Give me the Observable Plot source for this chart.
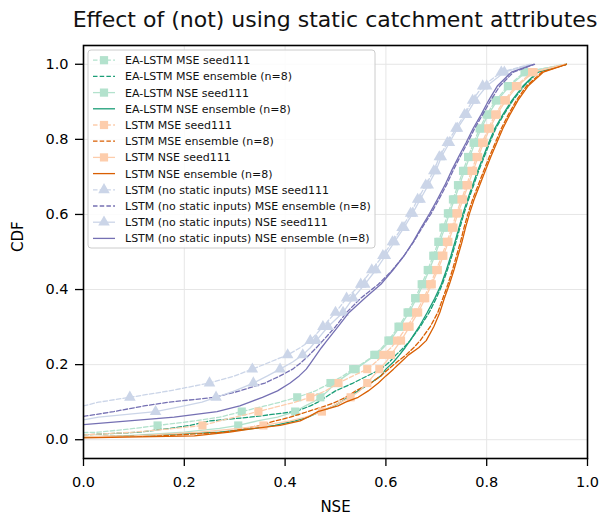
<!DOCTYPE html>
<html>
<head>
<meta charset="utf-8">
<script src="https://cdn.jsdelivr.net/npm/d3@7"></script>
<script src="https://cdn.jsdelivr.net/npm/@observablehq/plot@0.6"></script>
<style>
  html, body { margin: 0; padding: 0; background: white; }
  #wrap { position: relative; width: 601px; height: 518px; font-family: "DejaVu Sans", sans-serif; }
  #title { position: absolute; left: 335px; top: 0; height: 40px; line-height: 40px; transform: translateX(-50%); white-space: nowrap; font-size: 22px; color: #111; }
  #chart { position: absolute; left: 0; top: 40px; }
</style>
</head>
<body>
<div id="wrap">
  <div id="title">Effect of (not) using static catchment attributes</div>
  <div id="chart"></div>
</div>
<script>
// CDF levels (fraction of basins) at which NSE values were read
const cdfLevels = [0.01, 0.02, 0.03, 0.038, 0.05, 0.06, 0.075, 0.09, 0.1, 0.113, 0.13, 0.151, 0.17, 0.188, 0.207, 0.226, 0.245, 0.264, 0.301, 0.339, 0.377, 0.414, 0.452, 0.49, 0.527, 0.565, 0.603, 0.64, 0.678, 0.716, 0.753, 0.791, 0.829, 0.866, 0.904, 0.942, 0.979, 1.0];
// levels at which the seed111 runs carry a marker
const markerLevels = [0.038, 0.075, 0.113, 0.151, 0.188, 0.226, 0.264, 0.301, 0.339, 0.377, 0.414, 0.452, 0.49, 0.527, 0.565, 0.603, 0.64, 0.678, 0.716, 0.753, 0.791, 0.829, 0.866, 0.904, 0.942, 0.979];

const seriesNames = [
  "EA-LSTM MSE seed111", "EA-LSTM MSE ensemble (n=8)", "EA-LSTM NSE seed111", "EA-LSTM NSE ensemble (n=8)",
  "LSTM MSE seed111", "LSTM MSE ensemble (n=8)", "LSTM NSE seed111", "LSTM NSE ensemble (n=8)",
  "LSTM (no static inputs) MSE seed111", "LSTM (no static inputs) MSE ensemble (n=8)",
  "LSTM (no static inputs) NSE seed111", "LSTM (no static inputs) NSE ensemble (n=8)"
];
const seriesColors = ["#b3e2cd", "#1b9e77", "#b3e2cd", "#1b9e77", "#fdcdac", "#d95f02", "#fdcdac", "#d95f02", "#cbd5e8", "#7570b3", "#cbd5e8", "#7570b3"];
const seriesDashed = [true, true, false, false, true, true, false, false, true, true, false, false];
const seriesMarker = ["square", null, "square", null, "square", null, "square", null, "triangle", null, "triangle", null];
// CDF value where each curve enters at NSE = 0
const cdfAtZero = [0.019, 0.013, 0.008, 0.006, 0.013, 0.008, 0.008, 0.005, 0.09, 0.062, 0.053, 0.04];

// NSE values at cdfLevels (null = below NSE 0)
const eaMseSeed = [null, 0.03, 0.10, 0.147, 0.22, 0.27, 0.314, 0.36, 0.39, 0.424, 0.46, 0.49, 0.515, 0.535, 0.558, 0.577, 0.592, 0.605, 0.625, 0.643, 0.658, 0.671, 0.683, 0.694, 0.704, 0.714, 0.723, 0.733, 0.743, 0.753, 0.763, 0.774, 0.786, 0.80, 0.818, 0.842, 0.875, 0.955];
const eaMseEns = [null, 0.11, 0.17, 0.21, 0.25, 0.33, 0.42, 0.45, 0.465, 0.48, 0.50, 0.535, 0.563, 0.59, 0.607, 0.62, 0.635, 0.648, 0.668, 0.686, 0.70, 0.712, 0.722, 0.731, 0.739, 0.747, 0.755, 0.764, 0.774, 0.784, 0.795, 0.806, 0.818, 0.834, 0.852, 0.874, 0.902, 0.958];
const eaNseSeed = [0.08, 0.2, 0.27, 0.307, 0.345, 0.385, 0.42, 0.44, 0.455, 0.47, 0.485, 0.50, 0.52, 0.54, 0.56, 0.58, 0.595, 0.608, 0.628, 0.646, 0.661, 0.674, 0.686, 0.697, 0.707, 0.717, 0.726, 0.736, 0.746, 0.756, 0.766, 0.777, 0.789, 0.803, 0.821, 0.845, 0.878, 0.955];
const eaNseEns = [0.10, 0.27, 0.34, 0.38, 0.42, 0.445, 0.47, 0.497, 0.51, 0.525, 0.545, 0.57, 0.59, 0.60, 0.615, 0.627, 0.638, 0.648, 0.666, 0.682, 0.697, 0.71, 0.72, 0.729, 0.737, 0.745, 0.753, 0.762, 0.772, 0.782, 0.793, 0.804, 0.816, 0.832, 0.85, 0.872, 0.90, 0.958];
const lstmMseSeed = [null, 0.1, 0.18, 0.236, 0.27, 0.30, 0.347, 0.39, 0.42, 0.45, 0.48, 0.506, 0.535, 0.563, 0.58, 0.595, 0.61, 0.622, 0.642, 0.66, 0.675, 0.688, 0.70, 0.711, 0.721, 0.731, 0.74, 0.75, 0.76, 0.77, 0.78, 0.791, 0.803, 0.817, 0.835, 0.858, 0.89, 0.955];
const lstmMseEns = [0.15, 0.28, 0.32, 0.35, 0.38, 0.41, 0.445, 0.48, 0.50, 0.52, 0.54, 0.57, 0.59, 0.605, 0.622, 0.64, 0.655, 0.668, 0.688, 0.703, 0.713, 0.723, 0.732, 0.74, 0.748, 0.755, 0.763, 0.772, 0.783, 0.794, 0.805, 0.817, 0.829, 0.843, 0.859, 0.879, 0.909, 0.958];
const lstmNseSeed = [0.1, 0.23, 0.31, 0.357, 0.41, 0.44, 0.473, 0.495, 0.51, 0.53, 0.548, 0.563, 0.575, 0.587, 0.60, 0.61, 0.62, 0.63, 0.647, 0.664, 0.678, 0.691, 0.703, 0.714, 0.724, 0.734, 0.743, 0.753, 0.763, 0.773, 0.783, 0.794, 0.806, 0.82, 0.838, 0.861, 0.893, 0.955];
const lstmNseEns = [0.22, 0.29, 0.34, 0.39, 0.43, 0.445, 0.465, 0.505, 0.52, 0.545, 0.565, 0.585, 0.60, 0.615, 0.63, 0.645, 0.665, 0.68, 0.695, 0.707, 0.716, 0.726, 0.735, 0.743, 0.751, 0.758, 0.766, 0.775, 0.786, 0.797, 0.808, 0.82, 0.832, 0.846, 0.862, 0.882, 0.912, 0.958];
const nsMseSeed = [null, null, null, null, null, null, null, null, 0.03, 0.092, 0.17, 0.25, 0.30, 0.335, 0.37, 0.405, 0.43, 0.45, 0.475, 0.50, 0.522, 0.55, 0.572, 0.594, 0.613, 0.632, 0.649, 0.663, 0.679, 0.695, 0.706, 0.722, 0.739, 0.756, 0.772, 0.792, 0.829, 0.885];
const nsMseEns = [null, null, null, null, null, null, 0.06, 0.12, 0.17, 0.26, 0.31, 0.36, 0.39, 0.415, 0.433, 0.448, 0.462, 0.475, 0.50, 0.522, 0.55, 0.585, 0.613, 0.636, 0.655, 0.672, 0.69, 0.705, 0.72, 0.733, 0.747, 0.762, 0.776, 0.792, 0.808, 0.826, 0.853, 0.895];
const nsNseSeed = [null, null, null, null, null, 0.03, 0.143, 0.20, 0.235, 0.263, 0.30, 0.337, 0.365, 0.39, 0.415, 0.435, 0.45, 0.462, 0.485, 0.515, 0.535, 0.558, 0.58, 0.599, 0.617, 0.636, 0.653, 0.668, 0.684, 0.699, 0.71, 0.726, 0.742, 0.76, 0.777, 0.80, 0.835, 0.888];
const nsNseEns = [null, null, null, null, 0.09, 0.18, 0.265, 0.31, 0.33, 0.355, 0.385, 0.41, 0.428, 0.442, 0.452, 0.462, 0.472, 0.483, 0.505, 0.527, 0.558, 0.59, 0.614, 0.636, 0.654, 0.67, 0.687, 0.702, 0.717, 0.73, 0.744, 0.759, 0.773, 0.789, 0.804, 0.821, 0.849, 0.893];

const seriesValues = [eaMseSeed, eaMseEns, eaNseSeed, eaNseEns, lstmMseSeed, lstmMseEns, lstmNseSeed, lstmNseEns, nsMseSeed, nsMseEns, nsNseSeed, nsNseEns];

const xTicks = [0, 0.2, 0.4, 0.6, 0.8, 1.0];
const yTicks = [0, 0.2, 0.4, 0.6, 0.8, 1.0];

// build tidy rows
const rows = [];
seriesValues.forEach((vals, i) => {
  rows.push({s: i, nse: 0, cdf: cdfAtZero[i], mark: false});
  vals.forEach((v, j) => {
    if (v !== null) rows.push({s: i, nse: v, cdf: cdfLevels[j], mark: markerLevels.includes(cdfLevels[j])});
  });
});

const seriesMarks = [];
seriesNames.forEach((name, i) => {
  const d = rows.filter(r => r.s === i);
  seriesMarks.push(Plot.line(d, {
    x: "nse", y: "cdf", stroke: seriesColors[i], strokeWidth: 1.3,
    strokeDasharray: seriesDashed[i] ? "4.5,2.2" : null, clip: true
  }));
  if (seriesMarker[i]) {
    seriesMarks.push(Plot.dot(d.filter(r => r.mark), {
      x: "nse", y: "cdf", symbol: seriesMarker[i], fill: seriesColors[i], stroke: "none",
      r: seriesMarker[i] === "square" ? 4.6 : 4.3, clip: true
    }));
  }
});

const chart = Plot.plot({
  width: 601, height: 478,
  marginTop: 5, marginBottom: 60, marginLeft: 83, marginRight: 14,
  style: {fontFamily: "DejaVu Sans, sans-serif", fontSize: "14.5px", color: "#000", background: "white", overflow: "visible"},
  x: {domain: [0, 1]},
  y: {domain: [-0.05, 1.05]},
  marks: [
    Plot.gridX(xTicks, {stroke: "#e6e6e6", strokeOpacity: 1, strokeWidth: 1}),
    Plot.gridY(yTicks, {stroke: "#e6e6e6", strokeOpacity: 1, strokeWidth: 1}),
    ...seriesMarks,
    Plot.frame({stroke: "#000", strokeWidth: 1.6}),
    Plot.axisX(xTicks, {tickSize: 8, tickPadding: 10, strokeWidth: 1.3, tickFormat: d => d.toFixed(1), label: null}),
    Plot.axisY(yTicks, {tickSize: 8, tickPadding: 7, strokeWidth: 1.3, tickFormat: d => d.toFixed(1), label: null}),
    Plot.text(["NSE"], {frameAnchor: "bottom", dy: 53, fontSize: 15, fill: "#000"}),
    Plot.text(["CDF"], {frameAnchor: "left", dx: -65, rotate: -90, fontSize: 15, fill: "#000"})
  ]
});
document.getElementById("chart").appendChild(chart);

// legend (upper left, inside the axes)
const svg = d3.select(chart);
const lg = svg.append("g").attr("font-family", "DejaVu Sans, sans-serif").attr("font-size", 11).attr("text-anchor", "start");
lg.append("rect").attr("x", 88).attr("y", 10).attr("width", 287).attr("height", 198).attr("rx", 3)
  .attr("fill", "white").attr("fill-opacity", 0.85).attr("stroke", "#cccccc").attr("stroke-width", 1);
seriesNames.forEach((name, i) => {
  const y = 20.2 + 16.2 * i;
  lg.append("line").attr("x1", 93).attr("x2", 115).attr("y1", y).attr("y2", y)
    .attr("stroke", seriesColors[i]).attr("stroke-width", 1.3)
    .attr("stroke-dasharray", seriesDashed[i] ? "4.5,2.2" : null);
  if (seriesMarker[i] === "square") {
    lg.append("rect").attr("x", 104 - 4.1).attr("y", y - 4.1).attr("width", 8.2).attr("height", 8.2).attr("fill", seriesColors[i]);
  } else if (seriesMarker[i] === "triangle") {
    lg.append("path").attr("d", d3.symbol(d3.symbolTriangle, Math.PI * 4.3 * 4.3)())
      .attr("transform", `translate(104,${y})`).attr("fill", seriesColors[i]);
  }
  lg.append("text").attr("x", 125).attr("y", y).attr("dy", "0.36em").attr("fill", "#111").attr("text-anchor", "start").text(name);
});
</script>
</body>
</html>
